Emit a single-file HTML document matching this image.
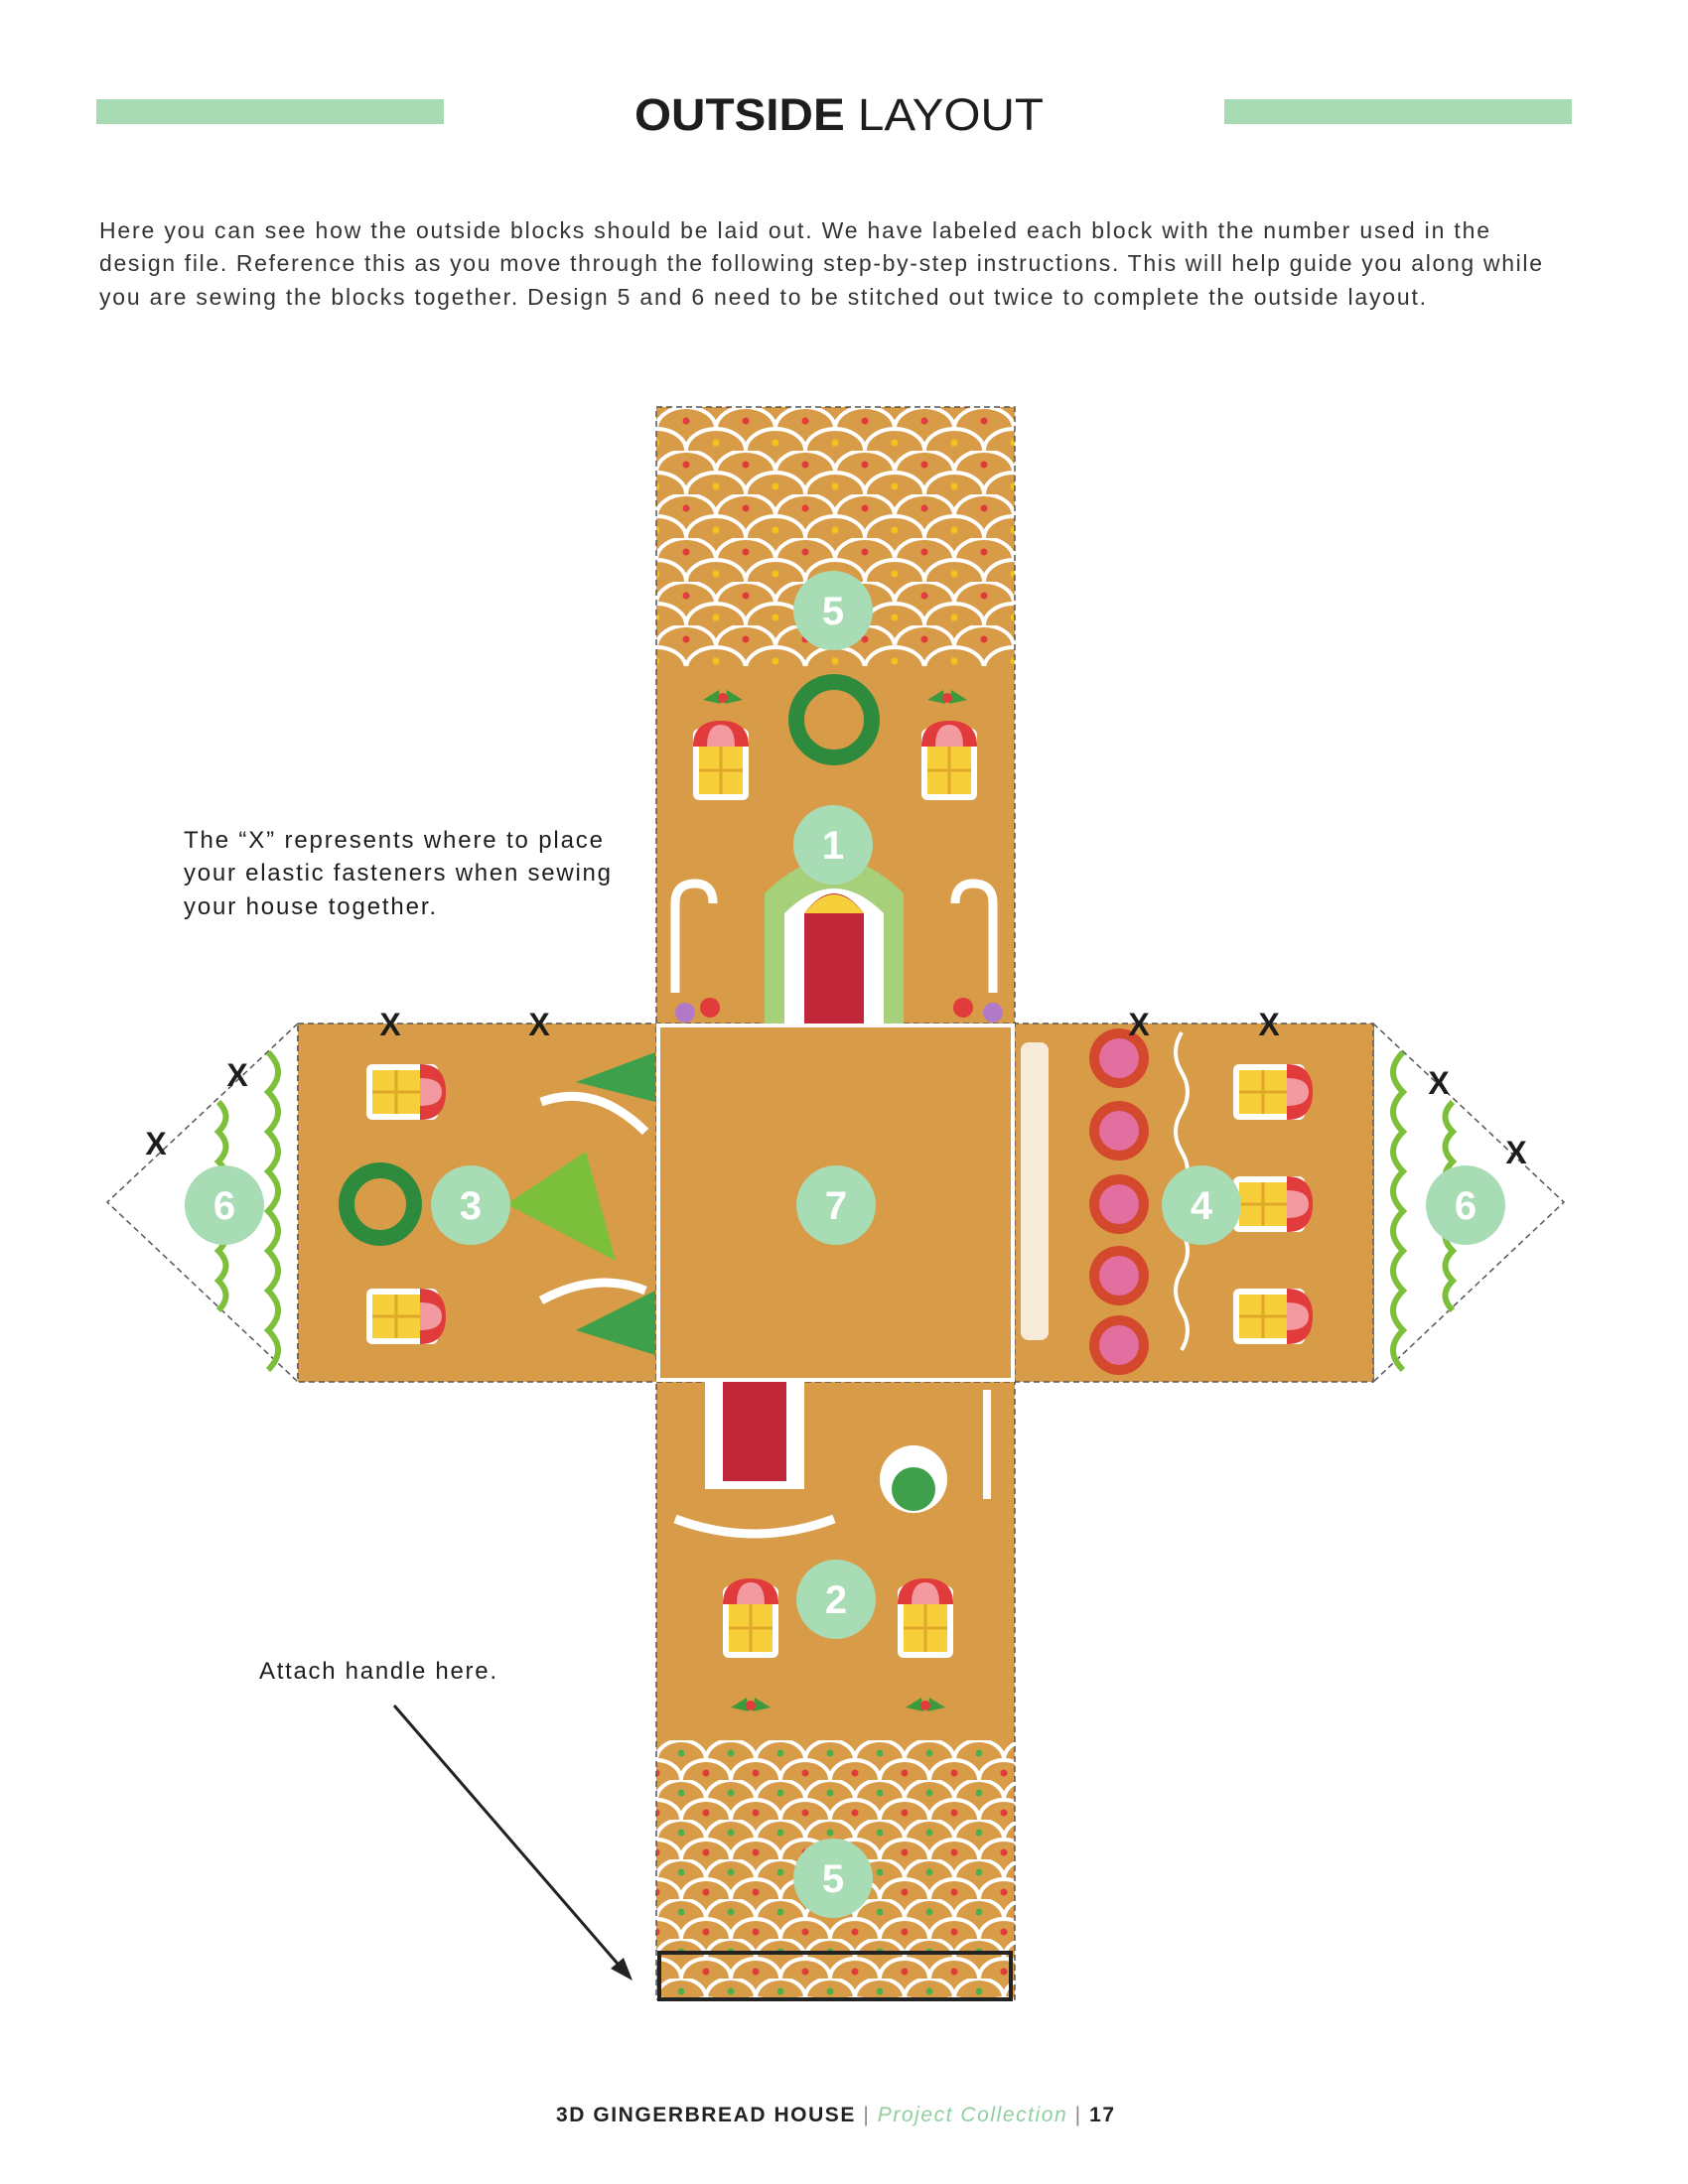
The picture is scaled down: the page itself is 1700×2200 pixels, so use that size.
<!DOCTYPE html>
<html><head><meta charset="utf-8"><style>
html,body{margin:0;padding:0;background:#fff}
body{width:1700px;height:2200px;position:relative;overflow:hidden;font-family:"Liberation Sans",sans-serif}
</style></head><body>
<svg width="1700" height="2200" viewBox="0 0 1700 2200" xmlns="http://www.w3.org/2000/svg" style="position:absolute;left:0;top:0">
<defs>
<pattern id="sc" x="661" y="410" width="60" height="44" patternUnits="userSpaceOnUse">
<rect width="60" height="44" fill="#d89c48"/>
<path d="M0 22 A30 22 0 0 1 60 22" fill="none" stroke="#fff" stroke-width="4"/>
<path d="M-30 44 A30 22 0 0 1 30 44 M30 44 A30 22 0 0 1 90 44" fill="none" stroke="#fff" stroke-width="4"/>
<circle cx="30" cy="14" r="3.5" fill="#e23b3b"/><circle cx="0" cy="36" r="3.5" fill="#f3c21b"/><circle cx="60" cy="36" r="3.5" fill="#f3c21b"/>
</pattern>
<pattern id="sc2" x="661" y="1753" width="50" height="40" patternUnits="userSpaceOnUse">
<rect width="50" height="40" fill="#d89c48"/>
<path d="M0 20 A25 20 0 0 1 50 20" fill="none" stroke="#fff" stroke-width="4"/>
<path d="M-25 40 A25 20 0 0 1 25 40 M25 40 A25 20 0 0 1 75 40" fill="none" stroke="#fff" stroke-width="4"/>
<circle cx="25" cy="13" r="3.5" fill="#4bb04b"/><circle cx="0" cy="33" r="3.5" fill="#e23b3b"/><circle cx="50" cy="33" r="3.5" fill="#e23b3b"/>
</pattern>
<g id="win">
<rect x="-28" y="-36" width="56" height="72" rx="6" fill="#fff"/>
<rect x="-22" y="-18" width="44" height="48" fill="#f6cf3a"/>
<path d="M0 -18V30M-22 6H22" stroke="#e0a828" stroke-width="3"/>
<path d="M-28 -18 Q-28 -44 0 -44 Q28 -44 28 -18Z" fill="#e23b3b"/>
<path d="M-14 -18 Q-14 -40 0 -40 Q14 -40 14 -18Z" fill="#f39aa0"/>
</g>
<g id="winh">
<rect x="-36" y="-28" width="72" height="56" rx="6" fill="#fff"/>
<rect x="-30" y="-22" width="48" height="44" fill="#f6cf3a"/>
<path d="M-6 -22V22M-30 0H18" stroke="#e0a828" stroke-width="3"/>
<path d="M18 -28 Q44 -28 44 0 Q44 28 18 28Z" fill="#e23b3b"/>
<path d="M18 -14 Q40 -14 40 0 Q40 14 18 14Z" fill="#f39aa0"/>
</g>
<g id="holly"><path d="M-20 0 L-4 -10 L-2 4Z M20 0 L4 -10 L2 4Z" fill="#3c9a3c"/><circle cx="0" cy="-2" r="5" fill="#e23b3b"/></g>
</defs>

<!-- header -->
<rect x="97" y="100" width="350" height="25" fill="#a8dbb3"/>
<rect x="1233" y="100" width="350" height="25" fill="#a8dbb3"/>
<text x="639" y="131" font-size="45" fill="#1d1d1d" font-weight="bold" textLength="412" lengthAdjust="spacingAndGlyphs">OUTSIDE <tspan font-weight="normal">LAYOUT</tspan></text>
<g font-size="23" fill="#333" lengthAdjust="spacing">
<text x="100" y="240" textLength="1400">Here you can see how the outside blocks should be laid out. We have labeled each block with the number used in the</text>
<text x="100" y="273" textLength="1453">design file. Reference this as you move through the following step-by-step instructions. This will help guide you along while</text>
<text x="100" y="307" textLength="1336">you are sewing the blocks together. Design 5 and 6 need to be stitched out twice to complete the outside layout.</text>
</g>

<!-- triangles 6 -->
<polygon points="300,1031 108,1211 300,1392" fill="#fff" stroke="#555" stroke-width="1.5" stroke-dasharray="6,4"/>
<polygon points="1383,1031 1575,1211 1383,1392" fill="#fff" stroke="#555" stroke-width="1.5" stroke-dasharray="6,4"/>
<g fill="none" stroke="#7cbf3a" stroke-width="6">
<path d="M270 1060 q20 20 0 40 q20 20 0 40 q20 20 0 40 q20 20 0 40 q20 20 0 40 q20 20 0 40 q20 20 0 40 q20 20 0 40"/>
<path d="M220 1110 q15 15 0 30 q15 15 0 30 q15 15 0 30 q15 15 0 30 q15 15 0 30 q15 15 0 30 q15 15 0 30"/>
<path d="M1413 1060 q-20 20 0 40 q-20 20 0 40 q-20 20 0 40 q-20 20 0 40 q-20 20 0 40 q-20 20 0 40 q-20 20 0 40 q-20 20 0 40"/>
<path d="M1463 1110 q-15 15 0 30 q-15 15 0 30 q-15 15 0 30 q-15 15 0 30 q-15 15 0 30 q-15 15 0 30 q-15 15 0 30"/>
</g>

<!-- blocks -->
<rect x="661" y="410" width="361" height="261" fill="url(#sc)"/>
<rect x="661" y="671" width="361" height="360" fill="#d89c48"/>
<rect x="300" y="1031" width="361" height="361" fill="#d89c48"/>
<rect x="661" y="1031" width="361" height="361" fill="#d89c48"/>
<rect x="1022" y="1031" width="361" height="361" fill="#d89c48"/>
<rect x="661" y="1392" width="361" height="361" fill="#d89c48"/>
<rect x="661" y="1753" width="361" height="261" fill="url(#sc2)"/>
<rect x="661" y="410" width="361" height="1604" fill="none" stroke="#555" stroke-width="1.5" stroke-dasharray="6,4"/>
<rect x="300" y="1031" width="1083" height="361" fill="none" stroke="#555" stroke-width="1.5" stroke-dasharray="6,4"/>
<rect x="663" y="1033" width="357" height="357" fill="none" stroke="#fff" stroke-width="4"/>

<!-- block 1 decor -->
<use href="#win" x="726" y="770"/><use href="#win" x="956" y="770"/>
<use href="#holly" x="728" y="705"/><use href="#holly" x="954" y="705"/>
<circle cx="840" cy="725" r="38" fill="none" stroke="#2e8b3e" stroke-width="16"/>
<path d="M770 1031 V900 Q840 830 910 900 V1031Z" fill="#a6d07a"/>
<path d="M790 1031 V920 Q840 870 890 920 V1031Z" fill="#fff"/>
<path d="M810 1031 V920 Q840 880 870 920 V1031Z" fill="#c0283a"/>
<path d="M810 920 Q840 882 870 920Z" fill="#f6cf3a"/>
<path d="M680 1000 V910 Q680 890 700 890 Q718 890 718 910" fill="none" stroke="#fff" stroke-width="9"/>
<path d="M1000 1000 V910 Q1000 890 980 890 Q962 890 962 910" fill="none" stroke="#fff" stroke-width="9"/>
<g fill="#e23b3b"><circle cx="715" cy="1015" r="10"/><circle cx="970" cy="1015" r="10"/></g>
<g fill="#b07ac9"><circle cx="690" cy="1020" r="10"/><circle cx="1000" cy="1020" r="10"/></g>

<!-- block 3 decor -->
<use href="#winh" x="405" y="1100"/><use href="#winh" x="405" y="1326"/>
<circle cx="383" cy="1213" r="34" fill="none" stroke="#2e8b3e" stroke-width="16"/>
<path d="M660 1060 L580 1090 L660 1110Z M660 1300 L580 1340 L660 1365Z" fill="#3ea04b"/>
<path d="M510 1213 L590 1160 L620 1270Z" fill="#7cbf3a"/>
<path d="M545 1110 Q600 1090 650 1140 M545 1310 Q600 1280 650 1300" fill="none" stroke="#fff" stroke-width="9"/>

<!-- block 4 decor -->
<g fill="#d4492d"><circle cx="1127" cy="1066" r="30"/><circle cx="1127" cy="1139" r="30"/><circle cx="1127" cy="1213" r="30"/><circle cx="1127" cy="1285" r="30"/><circle cx="1127" cy="1355" r="30"/></g>
<g fill="#e26fa0"><circle cx="1127" cy="1066" r="20"/><circle cx="1127" cy="1139" r="20"/><circle cx="1127" cy="1213" r="20"/><circle cx="1127" cy="1285" r="20"/><circle cx="1127" cy="1355" r="20"/></g>
<g fill="#fff"><rect x="1028" y="1050" width="28" height="300" rx="8" opacity=".8"/></g>
<path d="M1190 1040 q-12 20 0 40 q12 20 0 40 q-12 20 0 40 q12 20 0 40 q-12 20 0 40 q12 20 0 40 q-12 20 0 40 q12 20 0 40" fill="none" stroke="#fff" stroke-width="4"/>
<use href="#winh" x="1278" y="1100"/><use href="#winh" x="1278" y="1213"/><use href="#winh" x="1278" y="1326"/>

<!-- block 2 decor -->
<path d="M710 1392 V1500 H810 V1392Z" fill="#fff"/><rect x="728" y="1392" width="64" height="100" fill="#c0283a"/>
<path d="M680 1530 Q760 1560 840 1530" fill="none" stroke="#fff" stroke-width="9"/>
<circle cx="920" cy="1490" r="34" fill="#fff"/><circle cx="920" cy="1500" r="22" fill="#3ea04b"/>
<rect x="990" y="1400" width="8" height="110" fill="#fff"/>
<use href="#win" x="756" y="1634"/><use href="#win" x="932" y="1634"/>
<use href="#holly" x="756" y="1720"/><use href="#holly" x="932" y="1720"/>

<!-- black rect -->
<rect x="664" y="1967" width="354" height="47" fill="none" stroke="#222" stroke-width="4"/>

<!-- circles -->
<g fill="#a8dcb4">
<circle cx="839" cy="615" r="40"/><circle cx="839" cy="851" r="40"/><circle cx="842" cy="1214" r="40"/>
<circle cx="474" cy="1214" r="40"/><circle cx="1210" cy="1214" r="40"/><circle cx="226" cy="1214" r="40"/>
<circle cx="1476" cy="1214" r="40"/><circle cx="842" cy="1611" r="40"/><circle cx="839" cy="1892" r="40"/>
</g>
<g fill="#fff" font-size="40" font-weight="bold" text-anchor="middle">
<text x="839" y="629">5</text><text x="839" y="865">1</text><text x="842" y="1228">7</text>
<text x="474" y="1228">3</text><text x="1210" y="1228">4</text><text x="226" y="1228">6</text>
<text x="1476" y="1228">6</text><text x="842" y="1625">2</text><text x="839" y="1906">5</text>
</g>

<!-- X marks -->
<g font-size="32" font-weight="bold" fill="#1d1d1d" text-anchor="middle">
<text x="393" y="1043">X</text><text x="543" y="1043">X</text><text x="239" y="1094">X</text><text x="157" y="1163">X</text>
<text x="1147" y="1043">X</text><text x="1278" y="1043">X</text><text x="1449" y="1102">X</text><text x="1527" y="1172">X</text>
</g>

<!-- notes -->
<g font-size="24" fill="#1d1d1d" lengthAdjust="spacing">
<text x="185" y="854" textLength="422">The “X” represents where to place</text>
<text x="185" y="887" textLength="430">your elastic fasteners when sewing</text>
<text x="185" y="921" textLength="254">your house together.</text>
<text x="261" y="1691" textLength="239">Attach handle here.</text>
</g>
<line x1="397" y1="1718" x2="628" y2="1985" stroke="#222" stroke-width="3"/>
<polygon points="637,1995 615,1983 628,1972" fill="#222"/>

<!-- footer -->
<text x="560" y="2137" font-size="21" textLength="562" lengthAdjust="spacing"><tspan font-weight="bold" fill="#222">3D GINGERBREAD HOUSE</tspan><tspan fill="#888">  |  </tspan><tspan font-style="italic" fill="#8fcf9f">Project Collection</tspan><tspan fill="#888">  |  </tspan><tspan font-weight="bold" fill="#222">17</tspan></text>
</svg>
</body></html>
